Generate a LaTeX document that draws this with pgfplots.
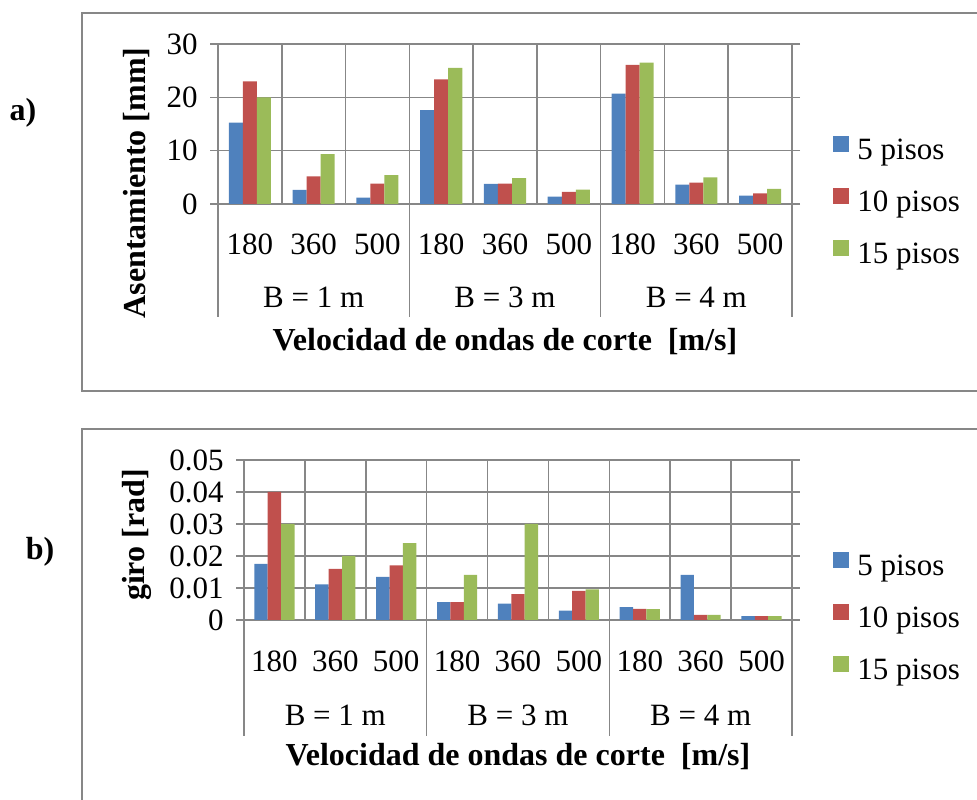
\documentclass[border=0pt]{standalone}
\usepackage{pgfplots}
\pgfplotsset{compat=1.18}
\usepackage{fontspec}
\setmainfont{Liberation Serif}
\definecolor{c1}{HTML}{4F81BD}
\definecolor{c2}{HTML}{C0504D}
\definecolor{c3}{HTML}{9BBB59}
\definecolor{gl}{HTML}{878787}
\newcommand{\fs}{\fontsize{15.5bp}{18bp}\selectfont}
\newcommand{\fb}{\fontsize{16bp}{19bp}\selectfont\bfseries}
\pgfplotsset{
  mybar/.style={
    scale only axis, height=80bp,
    ybar=0pt, bar width=0.22,
    xmin=-0.5, xmax=8.5, ymin=0,
    xtick={0,...,8},
    xticklabels={180,360,500,180,360,500,180,360,500},
    minor xtick={0.5,1.5,...,7.5},
    xminorgrids, ymajorgrids,
    x tick style={draw=none},
    minor tick length=0pt,
    major tick length=4bp,
    tick align=outside,
    grid style={gl, line width=0.75bp},
    axis line style={gl, line width=0.75bp},
    y tick style={gl, line width=0.75bp},
    clip=false,
    tick label style={font=\fs},
    /pgf/number format/assume math mode=true,
    xticklabel style={anchor=center, yshift=-16bp},
    yticklabel style={anchor=east, inner sep=0pt, xshift=-6bp},
    legend style={draw=none, fill=none, inner sep=0pt, font=\fs, anchor=west,
      row sep=10bp, nodes={inner sep=0pt, text height=11bp, text depth=4bp},
      /tikz/every odd column/.append style={column sep=4bp}},
    legend cell align=left,
    legend image code/.code={\fill[##1] (0bp,0.5bp) rectangle (8bp,8.5bp);},
  }
}
\begin{document}
\begin{tikzpicture}
\useasboundingbox (0,0) rectangle (488.5bp,400bp);
% frames
\draw[gl, line width=1bp] (495bp,393.5bp) -- (41bp,393.5bp) -- (41bp,204.5bp) -- (495bp,204.5bp);
\draw[gl, line width=1bp] (495bp,185.5bp) -- (41bp,185.5bp) -- (41bp,-5bp);
\node[font=\fb] at (11.5bp,343.5bp) {a)};
\node[font=\fb] at (20bp,124bp) {b)};
\node[font=\fb, rotate=90] at (68.5bp,308.5bp) {Asentamiento [mm]};
\node[font=\fb, rotate=90] at (68.5bp,132.5bp) {giro [rad]};

\begin{axis}[mybar, at={(109bp,298bp)}, anchor=south west, width=287bp,
  ymax=30, ytick={0,10,20,30},
  legend style={at={(1.0714,0)}}]
\addplot[fill=c1, draw=none] coordinates {(0,15.25) (1,2.64) (2,1.19) (3,17.6) (4,3.77) (5,1.38) (6,20.7) (7,3.64) (8,1.57)};
\addplot[fill=c2, draw=none] coordinates {(0,22.97) (1,5.2) (2,3.83) (3,23.35) (4,3.83) (5,2.26) (6,26.1) (7,4.0) (8,2.0)};
\addplot[fill=c3, draw=none] coordinates {(0,20.0) (1,9.35) (2,5.4) (3,25.5) (4,4.83) (5,2.7) (6,26.5) (7,5.0) (8,2.82)};
\legend{5 pisos,10 pisos,15 pisos}
\draw[gl, line width=0.75bp] (axis cs:-0.5,0) -- ++(0bp,-56.5bp);
\draw[gl, line width=0.75bp] (axis cs:2.5,0) -- ++(0bp,-56.5bp);
\draw[gl, line width=0.75bp] (axis cs:5.5,0) -- ++(0bp,-56.5bp);
\draw[gl, line width=0.75bp] (axis cs:8.5,0) -- ++(0bp,-56.5bp);
\node[font=\fs, yshift=-46.5bp] at (axis cs:1,0) {B = 1 m};
\node[font=\fs, yshift=-46.5bp] at (axis cs:4,0) {B = 3 m};
\node[font=\fs, yshift=-46.5bp] at (axis cs:7,0) {B = 4 m};
\node[font=\fb, yshift=-69bp] at (axis cs:4,0) {Velocidad de ondas de corte\ \ [m/s]};
\end{axis}

\begin{axis}[mybar, at={(122bp,90bp)}, anchor=south west, width=274bp,
  ymax=0.05, ytick={0,0.01,0.02,0.03,0.04,0.05},
  scaled y ticks=false,
  xticklabel style={yshift=-0.5bp},
  yticklabel style={/pgf/number format/fixed, /pgf/number format/precision=2},
  legend style={at={(1.0748,0)}}]
\addplot[fill=c1, draw=none] coordinates {(0,0.0175) (1,0.0111) (2,0.0135) (3,0.0056) (4,0.0051) (5,0.0029) (6,0.0040) (7,0.0141) (8,0.0012)};
\addplot[fill=c2, draw=none] coordinates {(0,0.0400) (1,0.0160) (2,0.0171) (3,0.0056) (4,0.0081) (5,0.0091) (6,0.0035) (7,0.0016) (8,0.0012)};
\addplot[fill=c3, draw=none] coordinates {(0,0.0300) (1,0.0200) (2,0.0240) (3,0.0141) (4,0.0300) (5,0.0096) (6,0.0034) (7,0.0016) (8,0.0012)};
\legend{5 pisos,10 pisos,15 pisos}
\draw[gl, line width=0.75bp] (axis cs:-0.5,0) -- ++(0bp,-58bp);
\draw[gl, line width=0.75bp] (axis cs:2.5,0) -- ++(0bp,-58bp);
\draw[gl, line width=0.75bp] (axis cs:5.5,0) -- ++(0bp,-58bp);
\draw[gl, line width=0.75bp] (axis cs:8.5,0) -- ++(0bp,-58bp);
\node[font=\fs, yshift=-47.5bp] at (axis cs:1,0) {B = 1 m};
\node[font=\fs, yshift=-47.5bp] at (axis cs:4,0) {B = 3 m};
\node[font=\fs, yshift=-47.5bp] at (axis cs:7,0) {B = 4 m};
\node[font=\fb, yshift=-68.5bp] at (axis cs:4,0) {Velocidad de ondas de corte\ \ [m/s]};
\end{axis}
\end{tikzpicture}
\end{document}
